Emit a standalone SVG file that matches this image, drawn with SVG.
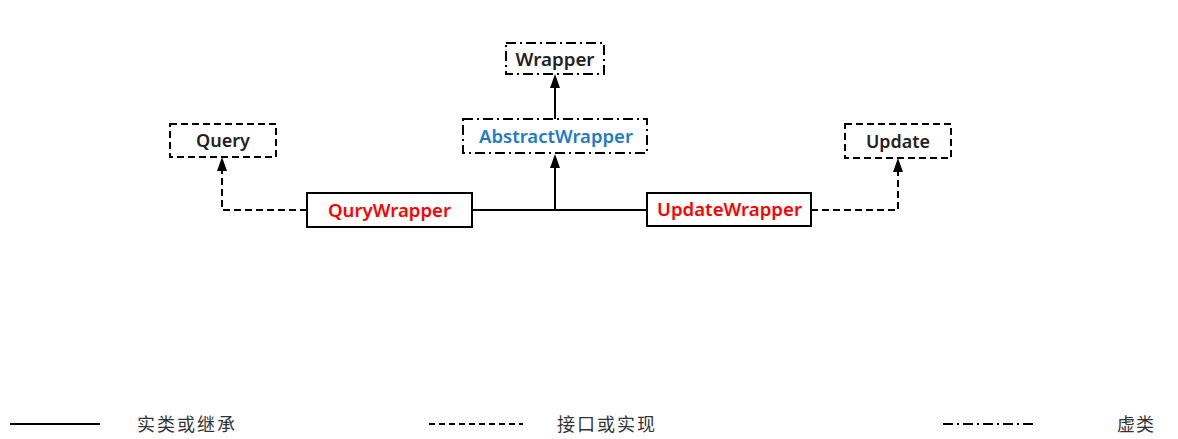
<svg xmlns="http://www.w3.org/2000/svg" width="1178" height="439" viewBox="0 0 1178 439">
<style>
.box{fill:#fff;stroke:#000;stroke-width:2}
.dash{stroke-dasharray:7 4}
.dd{stroke-dasharray:10 4 2 4}
.t{font-family:"Noto Sans","Liberation Sans",sans-serif;font-weight:600;font-size:18px;text-anchor:middle}
.blk{fill:#222}
.red{fill:#ff0000}
.blue{fill:#1f7ac9}
.ln{fill:none;stroke:#000;stroke-width:2}
.ah{fill:#000}
.lg{font-family:"Noto Sans CJK SC","Noto Sans",sans-serif;font-size:18px;fill:#333}
</style>
<g id="connectors">
<path class="ln" d="M555 119 V86"/>
<path class="ln" d="M472 210 H647 M555 210 V166"/>
<path class="ln dash" d="M307 210 H222 V168"/>
<path class="ln dash" d="M811 210 H898 V169"/>
<path class="ah" d="M550 88 L555 74 L560 88 Z"/>
<path class="ah" d="M550 168 L555 154 L560 168 Z"/>
<path class="ah" d="M217 171 L222 157 L227 171 Z"/>
<path class="ah" d="M893 172 L898 158 L903 172 Z"/>
</g>
<g id="wrapper">
<rect class="box dd" x="506" y="43" width="98" height="31"/>
<text class="t blk" x="555" y="66" textLength="79" lengthAdjust="spacingAndGlyphs">Wrapper</text>
</g>
<g id="abstractwrapper">
<rect class="box dd" x="463" y="119" width="184" height="34"/>
<text class="t blue" x="556" y="143" textLength="154" lengthAdjust="spacingAndGlyphs">AbstractWrapper</text>
</g>
<g id="query">
<rect class="box dash" x="170" y="124" width="106" height="33"/>
<text class="t blk" x="223" y="147" textLength="54" lengthAdjust="spacingAndGlyphs">Query</text>
</g>
<g id="update">
<rect class="box dash" x="845" y="124" width="106" height="34"/>
<text class="t blk" x="898" y="148" textLength="64" lengthAdjust="spacingAndGlyphs">Update</text>
</g>
<g id="qurywrapper">
<rect class="box" x="307" y="193" width="165" height="34"/>
<text class="t red" x="389.5" y="217" textLength="123" lengthAdjust="spacingAndGlyphs">QuryWrapper</text>
</g>
<g id="updatewrapper">
<rect class="box" x="647" y="193" width="164" height="33"/>
<text class="t red" x="729.5" y="216" textLength="145" lengthAdjust="spacingAndGlyphs">UpdateWrapper</text>
</g>
<g id="legend">
<line class="ln" x1="10" y1="424" x2="100" y2="424"/>
<text class="lg" x="137" y="431" textLength="98">实类或继承</text>
<line class="ln" x1="429" y1="424" x2="523" y2="424" style="stroke-dasharray:6 4"/>
<text class="lg" x="557" y="431" textLength="98">接口或实现</text>
<line class="ln dd" x1="943" y1="424" x2="1033" y2="424"/>
<text class="lg" x="1117" y="431" textLength="37">虚类</text>
</g>
</svg>
